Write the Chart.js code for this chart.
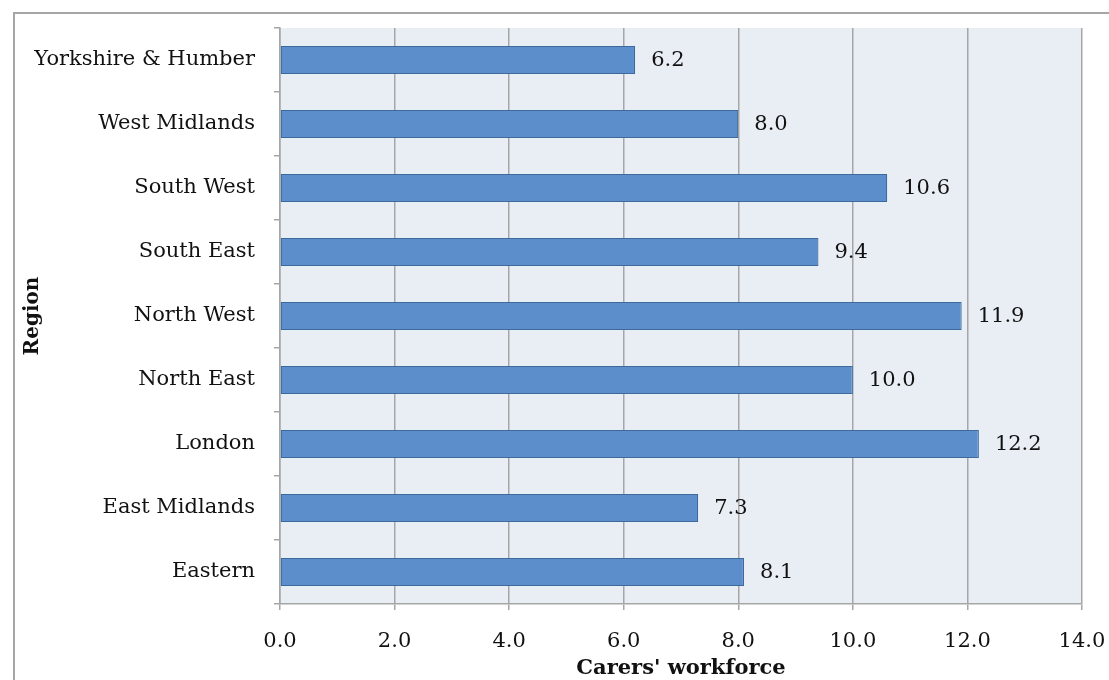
<!DOCTYPE html>
<html>
<head>
<meta charset="utf-8">
<script src="https://cdn.jsdelivr.net/npm/chart.js@4"></script>
<style>
  html, body { margin: 0; padding: 0; background: #ffffff; }
  #wrap { position: absolute; left: 0; top: 0; width: 1109px; height: 680px; }
</style>
</head>
<body>
<div id="wrap"><canvas id="chart" width="1109" height="680"></canvas></div>
<script>
// Region names, top to bottom as shown
const regions = [
    'Yorkshire & Humber',
    'West Midlands',
    'South West',
    'South East',
    'North West',
    'North East',
    'London',
    'East Midlands',
    'Eastern'
];

// Carers' workforce values for each region
const workforce = [6.2, 8.0, 10.6, 9.4, 11.9, 10.0, 12.2, 7.3, 8.1];

// x axis range and step
const xMin = 0;
const xMax = 14;
const xStep = 2;

const serif = 'DejaVu Serif';

// Light plot background and the outer frame lines
const frameAndBackground = {
    id: 'frameAndBackground',
    beforeDraw(chart) {
        const ctx = chart.ctx;
        const area = chart.chartArea;
        ctx.save();
        ctx.fillStyle = '#e9edf4';
        ctx.fillRect(area.left, area.top, area.right - area.left, area.bottom - area.top);
        ctx.strokeStyle = '#a6a6a6';
        ctx.lineWidth = 2;
        ctx.beginPath();
        ctx.moveTo(14, 700);
        ctx.lineTo(14, 13);
        ctx.lineTo(1120, 13);
        ctx.stroke();
        ctx.restore();
    }
};

// Value labels after each bar end
const valueLabels = {
    id: 'valueLabels',
    afterDatasetsDraw(chart) {
        const ctx = chart.ctx;
        const meta = chart.getDatasetMeta(0);
        ctx.save();
        ctx.font = '21px "' + serif + '"';
        ctx.fillStyle = '#111111';
        ctx.textAlign = 'left';
        ctx.textBaseline = 'middle';
        meta.data.forEach((bar, i) => {
            ctx.fillText(workforce[i].toFixed(1), bar.x + 16, bar.y + 1);
        });
        ctx.restore();
    }
};

new Chart(document.getElementById('chart').getContext('2d'), {
    type: 'bar',
    data: {
        labels: regions,
        datasets: [{
            data: workforce,
            backgroundColor: '#5b8ecb',
            borderColor: '#3c6a9e',
            borderWidth: 1.2,
            borderSkipped: false,
            barPercentage: 0.44,
            categoryPercentage: 1.0
        }]
    },
    options: {
        indexAxis: 'y',
        responsive: false,
        animation: false,
        layout: { padding: { left: 14, top: 28, right: 27, bottom: 0 } },
        plugins: {
            legend: { display: false },
            tooltip: { enabled: false }
        },
        scales: {
            x: {
                min: xMin,
                max: xMax,
                afterFit(scale) {
                    scale.height = 76;
                    scale.paddingLeft = 0;
                    scale.paddingRight = 0;
                },
                ticks: {
                    stepSize: xStep,
                    padding: 19,
                    color: '#111111',
                    font: { family: serif, size: 21 },
                    callback: v => Number(v).toFixed(1)
                },
                grid: { color: '#a6a6a6', lineWidth: 1.5, tickLength: 6 },
                border: { color: '#a6a6a6', width: 1.5 },
                title: {
                    display: true,
                    text: "Carers' workforce",
                    color: '#111111',
                    font: { family: serif, size: 21, weight: 'bold' },
                    padding: { top: 0, bottom: -1 }
                }
            },
            y: {
                afterFit(scale) {
                    scale.width = 266;
                    scale.paddingTop = 0;
                    scale.paddingBottom = 0;
                },
                ticks: {
                    padding: 19,
                    color: '#111111',
                    font: { family: serif, size: 21 }
                },
                grid: {
                    drawOnChartArea: false,
                    color: '#a6a6a6',
                    lineWidth: 1.5,
                    tickLength: 6
                },
                border: { color: '#a6a6a6', width: 1.5 },
                title: {
                    display: true,
                    text: 'Region',
                    color: '#111111',
                    font: { family: serif, size: 20, weight: 'bold' },
                    padding: { top: 7, bottom: 0 }
                }
            }
        }
    },
    plugins: [frameAndBackground, valueLabels]
});
</script>
</body>
</html>
